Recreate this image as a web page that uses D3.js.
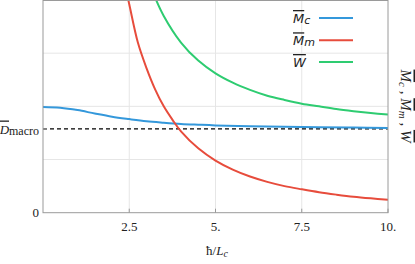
<!DOCTYPE html>
<html><head><meta charset="utf-8">
<script src="https://cdn.jsdelivr.net/npm/d3@7"></script>
<style>
html,body{margin:0;padding:0;background:#fff;}
svg{display:block;}
.serif{font-family:"Liberation Serif","DejaVu Serif",serif;}
.sans{font-family:"DejaVu Sans","Open Sans",sans-serif;}
</style></head>
<body>
<svg id="chart" width="415" height="264"></svg>
<script>
// ---- data ----
const mcX = [0, 0.5, 1.0, 1.5, 2.0, 2.5, 3.0, 3.5, 4.0, 4.5, 5.0, 6.0, 7.0, 8.0, 9.0, 10.0];
const mcY = [1.99, 1.975, 1.93, 1.865, 1.805, 1.76, 1.72, 1.693, 1.67, 1.655, 1.642, 1.627, 1.615, 1.606, 1.600, 1.595];

const mmX = [2.42, 2.5, 2.75, 3.0, 3.25, 3.5, 3.75, 4.0, 4.5, 5.0, 5.5, 6.0, 6.5, 7.0, 7.5, 8.0, 8.5, 9.0, 9.5, 10.0];
const mmY = [4.15, 3.92, 3.2, 2.72, 2.32, 2.0, 1.75, 1.53, 1.21, 0.98, 0.81, 0.68, 0.58, 0.50, 0.44, 0.385, 0.34, 0.30, 0.27, 0.245];

const wX = [3.2, 3.5, 4.0, 4.5, 5.0, 5.5, 6.0, 6.5, 7.0, 7.5, 8.0, 8.5, 9.0, 9.5, 10.0];
const wY = [4.12, 3.70, 3.20, 2.86, 2.62, 2.445, 2.31, 2.20, 2.12, 2.05, 2.0, 1.95, 1.91, 1.875, 1.845];

const dMacro = 1.578;

const xTicks = [2.5, 5, 7.5, 10];
const xTickLabels = ["2.5", "5.", "7.5", "10."];
const yGrid = [1, 2, 3];

const seriesNames = [["M", "c"], ["M", "m"], ["W", ""]];
const seriesColors = ["#3498db", "#e74c3c", "#2ecc71"];

// ---- layout ----
const svg = d3.select("#chart");
const L = 43, R = 388, T = 0, B = 212.7;
const x = d3.scaleLinear().domain([0, 10]).range([L, R]);
const y = d3.scaleLinear().domain([0, 4]).range([B, T]);

svg.append("defs").append("clipPath").attr("id", "clip")
  .append("rect").attr("x", L).attr("y", T).attr("width", R - L).attr("height", B - T);

// grid
svg.append("g").selectAll("line").data(xTicks.slice(0, 3)).join("line")
  .attr("x1", d => x(d)).attr("x2", d => x(d)).attr("y1", T).attr("y2", B)
  .attr("stroke", "#e6e6e6").attr("stroke-width", 1);
svg.append("g").selectAll("line").data(yGrid).join("line")
  .attr("x1", L).attr("x2", R).attr("y1", d => y(d)).attr("y2", d => y(d))
  .attr("stroke", "#e6e6e6").attr("stroke-width", 1);

// curves
const line = d3.line().x(d => x(d[0])).y(d => y(d[1])).curve(d3.curveCatmullRom.alpha(0.5));
const series = [d3.zip(mcX, mcY), d3.zip(mmX, mmY), d3.zip(wX, wY)];
const gC = svg.append("g").attr("clip-path", "url(#clip)");
// dashed reference line
gC.append("line").attr("x1", L).attr("x2", R).attr("y1", y(dMacro)).attr("y2", y(dMacro))
  .attr("stroke", "#000").attr("stroke-width", 1.2).attr("stroke-dasharray", "4,3");
series.forEach((s, i) => {
  gC.append("path").datum(s).attr("d", line).attr("fill", "none")
    .attr("stroke", seriesColors[i]).attr("stroke-width", 2);
});

// frame
svg.append("rect").attr("x", L).attr("y", T + 0.5).attr("width", R - L).attr("height", B - T - 0.5)
  .attr("fill", "none").attr("stroke", "#9a9a9a").attr("stroke-width", 1);

// ticks
svg.append("g").selectAll("line").data(xTicks).join("line")
  .attr("x1", d => x(d)).attr("x2", d => x(d)).attr("y1", B).attr("y2", B - 4)
  .attr("stroke", "#9a9a9a");
svg.append("line").attr("x1", L).attr("x2", L + 4).attr("y1", y(dMacro)).attr("y2", y(dMacro))
  .attr("stroke", "#9a9a9a");

// x tick labels
svg.append("g").selectAll("text").data(xTicks).join("text")
  .attr("class", "serif").attr("x", d => x(d)).attr("y", 231)
  .attr("text-anchor", "middle").attr("font-size", 13).attr("fill", "#222")
  .text((d, i) => xTickLabels[i]);

// y labels
svg.append("text").attr("class", "serif").attr("x", 39).attr("y", 217)
  .attr("text-anchor", "end").attr("font-size", 13).attr("fill", "#222").text("0");
const dl = svg.append("text").attr("class", "serif").attr("x", 39).attr("y", 133.5)
  .attr("text-anchor", "end").attr("font-size", 13).attr("fill", "#222");
dl.append("tspan").attr("font-style", "italic").style("text-decoration", "overline").text("D");
dl.append("tspan").attr("font-size", 12).attr("dy", 1).text("macro");

// x axis label
const xl = svg.append("text").attr("class", "serif").attr("x", 217).attr("y", 255)
  .attr("text-anchor", "middle").attr("font-size", 13).attr("fill", "#222");
xl.append("tspan").text("ħ/");
xl.append("tspan").attr("font-style", "italic").text("L");
xl.append("tspan").attr("font-style", "italic").attr("font-size", 10).attr("dy", 2).text("c");

// right label (rotated)
const rl = svg.append("text").attr("class", "serif")
  .attr("transform", "translate(401,106) rotate(90)")
  .attr("text-anchor", "middle").attr("font-size", 15).attr("fill", "#222").attr("font-style", "italic");
rl.append("tspan").style("text-decoration", "overline").text("M");
rl.append("tspan").attr("font-size", 11).attr("dy", 2).text("c");
rl.append("tspan").attr("dy", -2).text(" , ");
rl.append("tspan").style("text-decoration", "overline").text("M");
rl.append("tspan").attr("font-size", 11).attr("dy", 2).text("m");
rl.append("tspan").attr("dy", -2).text(" , ");
rl.append("tspan").style("text-decoration", "overline").text("W");

// legend
const legY = [18, 40.3, 62];
seriesNames.forEach((n, i) => {
  svg.append("line").attr("x1", 319).attr("x2", 353).attr("y1", legY[i]).attr("y2", legY[i])
    .attr("stroke", seriesColors[i]).attr("stroke-width", 2);
  const t = svg.append("text").attr("class", "sans").attr("x", 293).attr("y", legY[i] + 5)
    .attr("font-size", 13).attr("font-style", "italic").attr("fill", "#222");
  t.append("tspan").style("text-decoration", "overline").text(n[0]);
  if (n[1]) t.append("tspan").attr("font-size", 11).attr("dy", 1).text(n[1]);
});
</script>
</body></html>
